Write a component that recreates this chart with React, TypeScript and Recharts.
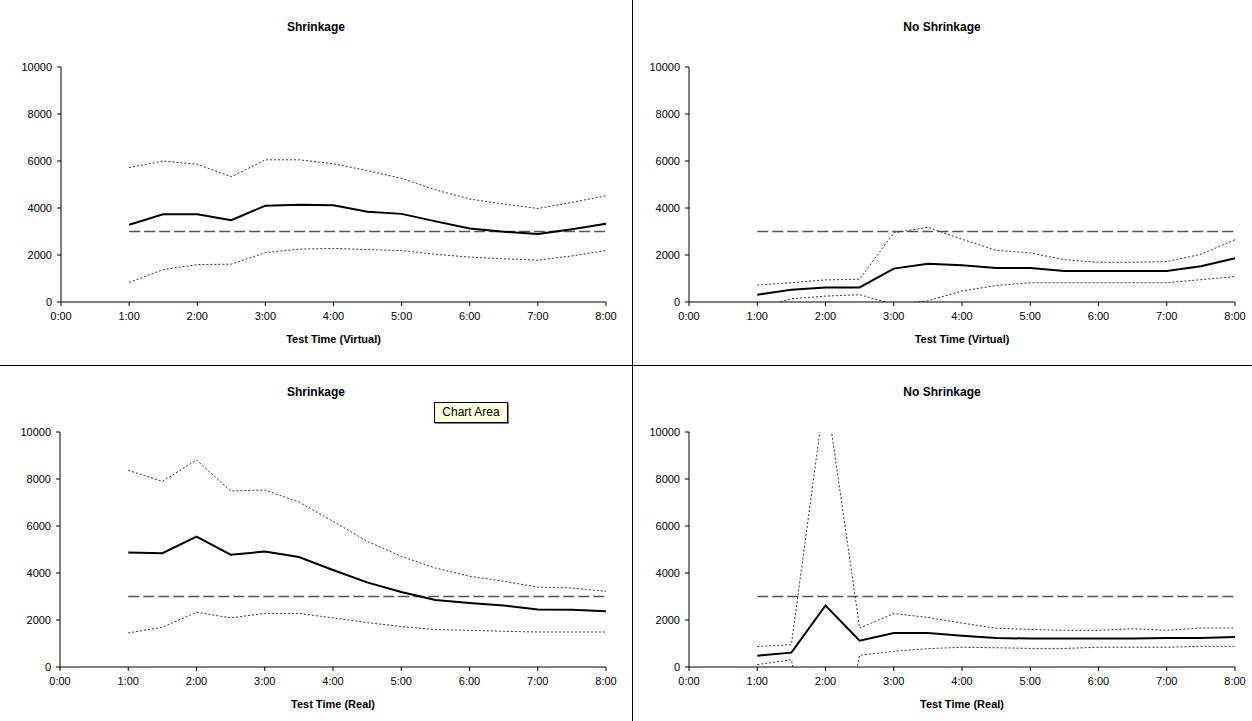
import { LineChart, Line, XAxis, YAxis } from "recharts";

const hours = [1, 1.5, 2, 2.5, 3, 3.5, 4, 4.5, 5, 5.5, 6, 6.5, 7, 7.5, 8];
const xTicks = [0, 1, 2, 3, 4, 5, 6, 7, 8];
const yTicks = [0, 2000, 4000, 6000, 8000, 10000];
const target = 3000;

// Shrinkage, virtual time
const shrinkVirtualMean = [3290, 3730, 3730, 3480, 4100, 4140, 4120, 3840, 3750, 3430, 3130, 2990, 2890, 3100, 3330];
const shrinkVirtualUpper = [5720, 6000, 5860, 5330, 6050, 6050, 5880, 5590, 5260, 4770, 4380, 4170, 3980, 4240, 4520];
const shrinkVirtualLower = [830, 1380, 1590, 1610, 2100, 2250, 2280, 2230, 2190, 2030, 1910, 1840, 1780, 1960, 2190];

// No shrinkage, virtual time
const noShrinkVirtualMean = [310, 520, 620, 620, 1420, 1630, 1560, 1450, 1450, 1320, 1320, 1320, 1320, 1520, 1860];
const noShrinkVirtualUpper = [720, 820, 940, 970, 2940, 3180, 2670, 2200, 2090, 1800, 1690, 1690, 1720, 2030, 2650];
const noShrinkVirtualLower = [-250, 140, 250, 310, -100, 50, 470, 700, 820, 820, 820, 820, 820, 950, 1080];

// Shrinkage, real time
const shrinkRealMean = [4870, 4840, 5550, 4780, 4910, 4680, 4130, 3600, 3190, 2850, 2720, 2620, 2450, 2440, 2370];
const shrinkRealUpper = [8370, 7900, 8810, 7490, 7530, 7020, 6200, 5350, 4710, 4210, 3860, 3650, 3400, 3360, 3220];
const shrinkRealLower = [1450, 1690, 2330, 2090, 2280, 2280, 2090, 1890, 1720, 1590, 1560, 1520, 1490, 1490, 1490];

// No shrinkage, real time
const noShrinkRealMean = [480, 610, 2620, 1120, 1450, 1450, 1330, 1230, 1210, 1210, 1210, 1210, 1230, 1230, 1280];
const noShrinkRealUpper = [870, 950, 11800, 1660, 2270, 2110, 1870, 1650, 1600, 1560, 1560, 1630, 1560, 1660, 1660];
const noShrinkRealLower = [100, 310, -6600, 500, 670, 780, 840, 820, 790, 790, 840, 840, 840, 880, 880];

const font = "'Liberation Sans', Arial, sans-serif";

const fmtTime = (v: number) => `${v}:00`;

const PLOT_TOP = 67;
const PLOT_H = 235;
const X_AXIS_H = 30;

function Panel(props: any) {
  const data = hours.map((t, i) => ({
    t,
    mean: props.mean[i],
    upper: props.upper[i],
    lower: props.lower[i],
    target,
  }));
  const w = props.width;
  const h = props.height;
  return (
    <div style={{ position: "absolute", left: props.left, top: props.top, width: w, height: h }}>
      <div
        style={{
          position: "absolute",
          left: 0,
          width: w,
          top: 20,
          textAlign: "center",
          fontFamily: font,
          fontWeight: "bold",
          fontSize: 12,
        }}
      >
        {props.title}
      </div>
      <LineChart
        width={w}
        height={h}
        data={data}
        margin={{
          top: PLOT_TOP,
          right: w - props.plotLeft - props.plotWidth,
          left: 0,
          bottom: h - PLOT_TOP - PLOT_H - X_AXIS_H,
        }}
        style={{ position: "absolute", left: 0, top: 0 }}
      >
        <XAxis
          dataKey="t"
          type="number"
          domain={[0, 8]}
          ticks={xTicks}
          tickFormatter={fmtTime}
          interval={0}
          stroke="#000"
          tickSize={4}
          tickMargin={6}
          height={X_AXIS_H}
          tick={{ fill: "#000", fontSize: 11, fontFamily: font }}
        />
        <YAxis
          type="number"
          domain={[0, 10000]}
          allowDataOverflow
          ticks={yTicks}
          interval={0}
          stroke="#000"
          tickSize={4}
          tickMargin={5}
          width={props.plotLeft}
          tick={{ fill: "#000", fontSize: 11, fontFamily: font }}
        />
        <Line dataKey="target" stroke="#555" strokeWidth={1.3} strokeDasharray="11 4" dot={false} isAnimationActive={false} />
        <Line dataKey="upper" stroke="#333" strokeWidth={1} strokeDasharray="2 2" dot={false} isAnimationActive={false} />
        <Line dataKey="lower" stroke="#333" strokeWidth={1} strokeDasharray="2 2" dot={false} isAnimationActive={false} />
        <Line dataKey="mean" stroke="#000" strokeWidth={2} dot={false} isAnimationActive={false} />
      </LineChart>
      <div
        style={{
          position: "absolute",
          left: props.plotLeft,
          width: props.plotWidth,
          top: 333,
          textAlign: "center",
          fontFamily: font,
          fontWeight: "bold",
          fontSize: 11,
        }}
      >
        {props.xTitle}
      </div>
    </div>
  );
}

export default function App() {
  return (
    <div style={{ position: "absolute", left: 0, top: 0, width: 1252, height: 721, background: "#fff", overflow: "hidden" }}>
      <Panel
        left={0} top={0} width={632} height={365}
        plotLeft={61} plotWidth={545}
        title="Shrinkage" xTitle="Test Time (Virtual)"
        mean={shrinkVirtualMean} upper={shrinkVirtualUpper} lower={shrinkVirtualLower}
      />
      <Panel
        left={632} top={0} width={620} height={365}
        plotLeft={57} plotWidth={546}
        title="No Shrinkage" xTitle="Test Time (Virtual)"
        mean={noShrinkVirtualMean} upper={noShrinkVirtualUpper} lower={noShrinkVirtualLower}
      />
      <Panel
        left={0} top={365} width={632} height={356}
        plotLeft={60} plotWidth={546}
        title="Shrinkage" xTitle="Test Time (Real)"
        mean={shrinkRealMean} upper={shrinkRealUpper} lower={shrinkRealLower}
      />
      <Panel
        left={632} top={365} width={620} height={356}
        plotLeft={57} plotWidth={546}
        title="No Shrinkage" xTitle="Test Time (Real)"
        mean={noShrinkRealMean} upper={noShrinkRealUpper} lower={noShrinkRealLower}
      />
      <div style={{ position: "absolute", left: 632, top: 0, width: 1, height: 721, background: "#000" }} />
      <div style={{ position: "absolute", left: 0, top: 365, width: 1252, height: 1, background: "#000" }} />
      <div
        style={{
          position: "absolute",
          left: 434,
          top: 402,
          width: 74,
          height: 21,
          boxSizing: "border-box",
          background: "#ffffe1",
          border: "1px solid #000",
          boxShadow: "1px 1px 0 #808080",
          fontFamily: font,
          fontSize: 12,
          lineHeight: "19px",
          textAlign: "center",
        }}
      >
        Chart Area
      </div>
    </div>
  );
}
